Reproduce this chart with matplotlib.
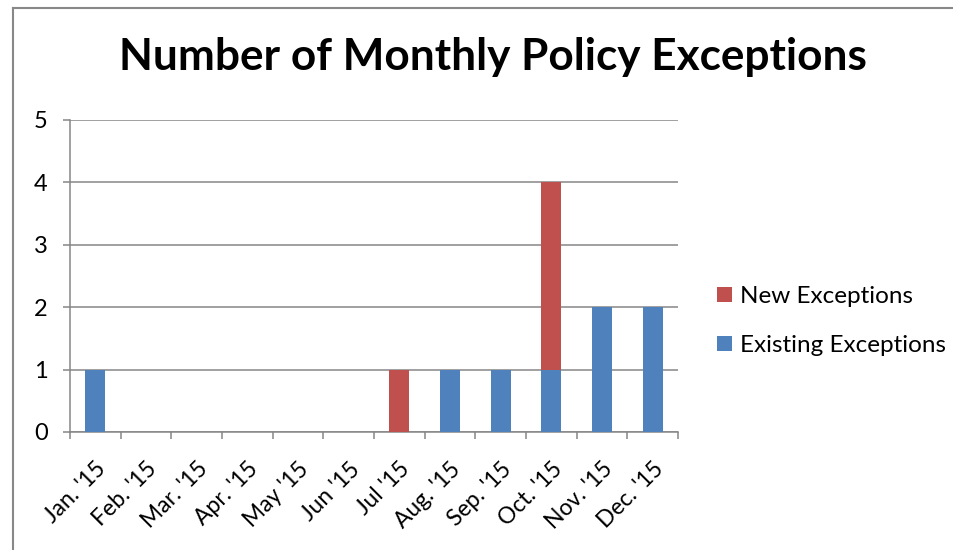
import matplotlib
matplotlib.use("Agg")
from matplotlib import pyplot as plt
from matplotlib.lines import Line2D
import numpy as np

# chart data
months = ["Jan. '15", "Feb. '15", "Mar. '15", "Apr. '15", "May '15", "Jun '15",
          "Jul '15", "Aug. '15", "Sep. '15", "Oct. '15", "Nov. '15", "Dec. '15"]
existing = [1, 0, 0, 0, 0, 0, 0, 1, 1, 1, 2, 2]
new = [0, 0, 0, 0, 0, 0, 1, 0, 0, 3, 0, 0]
yticks = [0, 1, 2, 3, 4, 5]

blue = "#4F81BD"
red = "#C0504D"
grid = "#868686"

plt.rcParams['font.family'] = ['Lato', 'DejaVu Sans']

fig = plt.figure(figsize=(9.54, 5.5), dpi=100)
ax = fig.add_axes([70 / 954, 1 - 432 / 550, 608 / 954, 312 / 550])

x = np.arange(len(months))
b1 = ax.bar(x, existing, width=0.4, color=blue, zorder=3)
b2 = ax.bar(x, new, width=0.4, bottom=existing, color=red, zorder=3)

ax.set_xlim(-0.5, len(months) - 0.5)
ax.set_ylim(0, 5)
ax.set_yticks(yticks)
ax.yaxis.grid(True, color=grid, linewidth=1.1, zorder=0)

for s in ["top", "right"]:
    ax.spines[s].set_visible(False)
for s in ["left", "bottom"]:
    ax.spines[s].set_color(grid)
    ax.spines[s].set_linewidth(1.1)

ax.set_xticks(x)
ax.set_xticklabels(months, rotation=45, ha="right", va="top", rotation_mode="anchor", fontsize=16.5)
ax.set_xticks(np.arange(-0.5, len(months)), minor=True)
ax.tick_params(axis="x", which="major", length=0, pad=19)
ax.tick_params(axis="x", which="minor", length=5, width=1.1, color=grid)
ax.tick_params(axis="y", length=5, width=1.1, color=grid, labelsize=17, pad=11)

fig.text(493 / 954, 1 - 57 / 550, "Number of Monthly Policy Exceptions",
         ha="center", va="center", fontsize=31.8, fontweight="bold")

fig.legend([b2, b1], ["New Exceptions", "Existing Exceptions"],
           loc="center left", bbox_to_anchor=(717 / 954, 1 - 321 / 550),
           frameon=False, fontsize=17.5, handlelength=0.6, handleheight=0.6,
           handletextpad=0.35, labelspacing=1.15, borderaxespad=0, borderpad=0)

# chart area border
fig.add_artist(Line2D([13 / 954, 13 / 954], [0, 1 - 8 / 550], color="#888888", linewidth=1.5))
fig.add_artist(Line2D([13 / 954, 1], [1 - 8 / 550, 1 - 8 / 550], color="#888888", linewidth=1.5))

fig.savefig("out.png", dpi=100)
